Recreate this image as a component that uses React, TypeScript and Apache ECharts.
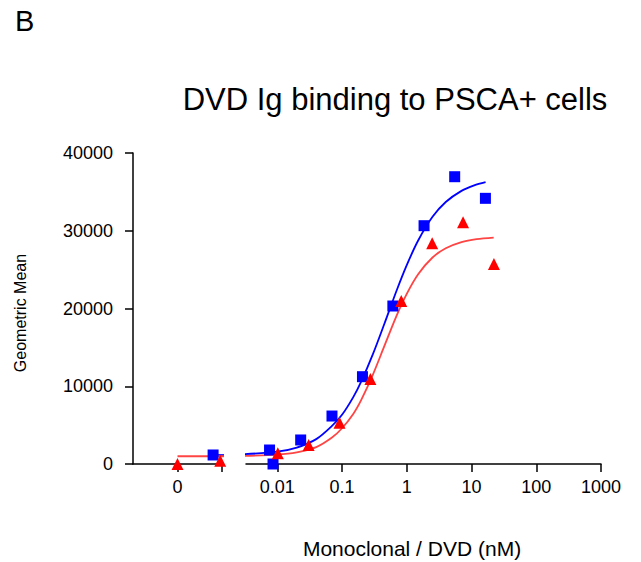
import React, { useEffect, useRef } from "react";
import * as echarts from "echarts";

// ---- data ----
const yTickValues = [0, 10000, 20000, 30000, 40000];
const logTickLabels = ["0.01", "0.1", "1", "10", "100", "1000"];
const zeroTickLabels = ["0"];

// left (zero) segment: [position, geometric mean]
const blueZeroPoints = [[0.8, 1160]];
const redZeroPoints = [[0, 0], [0.96, 420]];
const blueZeroFit = [[0.8, 1150], [1.1, 1150]];
const redZeroFit = [[0, 1000], [1.07, 1000]];

// right (log) segment: [concentration nM, geometric mean]
const bluePoints = [
  [0.0076, 1800], [0.0086, 0], [0.023, 3090], [0.07, 6170], [0.207, 11230],
  [0.61, 20320], [1.85, 30650], [5.5, 36950], [16.4, 34170],
];
const redPoints = [
  [0.0102, 1370], [0.0305, 2440], [0.0914, 5310], [0.274, 10930],
  [0.823, 20960], [2.47, 28390], [7.41, 31090], [22.2, 25720],
];
const blueFit = [
  [0.0029, 1250], [0.01, 1580], [0.02, 2110], [0.04, 3200], [0.07, 4900],
  [0.1, 6330], [0.15, 8640], [0.2, 10690], [0.3, 14130], [0.45, 18010],
  [0.7, 22350], [1.0, 25580], [1.5, 28740], [2.5, 31790], [4, 33700],
  [7, 35130], [11, 35840], [16.5, 36250],
];
const redFit = [
  [0.0029, 1050], [0.01, 1200], [0.02, 1490], [0.04, 2170], [0.07, 3400],
  [0.1, 4600], [0.15, 6470], [0.2, 8310], [0.3, 11500], [0.45, 15150],
  [0.7, 19110], [1.0, 21890], [1.5, 24410], [2.5, 26560], [4, 27740],
  [7, 28530], [12, 28910], [22, 29120],
];

const FONT = "'Liberation Sans', Arial, Helvetica, sans-serif";
const BLUE = "#0000ff";
const RED = "#ff0000";
const RED_LINE = "#ff4444";

export default function App() {
  const ref = useRef<HTMLDivElement>(null);

  useEffect(() => {
    if (!ref.current) return;
    const chart = echarts.init(ref.current, null, { renderer: "svg" });

    const axisLine = { show: true, onZero: false, lineStyle: { color: "#000", width: 1.5 } };
    const axisTick = { show: true, inside: false, length: 8, lineStyle: { color: "#000", width: 1.5 } };
    const labelStyle = { color: "#000", fontSize: 18, fontFamily: FONT };

    const top = 153;
    const height = 311;

    chart.setOption({
      animation: false,
      backgroundColor: "#fff",
      grid: [
        { left: 133, top, width: 89, height },
        { left: 246, top, width: 355, height },
      ],
      xAxis: [
        {
          type: "value",
          gridIndex: 0,
          min: -1,
          max: 1,
          interval: 1,
          axisLine,
          axisTick: { ...axisTick, customValues: [0, 1] },
          axisLabel: {
            ...labelStyle,
            margin: 14,
            customValues: [0],
            formatter: () => zeroTickLabels[0],
          },
          splitLine: { show: false },
        },
        {
          type: "log",
          logBase: 10,
          gridIndex: 1,
          min: 0.00329,
          max: 1000,
          axisLine,
          axisTick,
          axisLabel: {
            ...labelStyle,
            margin: 14,
            showMinLabel: false,
            formatter: (v: number) => {
              const e = Math.log10(v);
              const r = Math.round(e);
              if (Math.abs(e - r) > 1e-6) return "";
              const s = logTickLabels.find((t) => Math.abs(Math.log10(parseFloat(t)) - r) < 1e-6);
              return s ?? "";
            },
          },
          splitLine: { show: false },
          minorTick: { show: false },
        },
      ],
      yAxis: [
        {
          type: "value",
          gridIndex: 0,
          min: yTickValues[0],
          max: yTickValues[yTickValues.length - 1],
          interval: yTickValues[1] - yTickValues[0],
          axisLine,
          axisTick,
          axisLabel: { ...labelStyle, margin: 20, formatter: (v: number) => String(v) },
          splitLine: { show: false },
        },
        {
          type: "value",
          gridIndex: 1,
          min: yTickValues[0],
          max: yTickValues[yTickValues.length - 1],
          interval: yTickValues[1] - yTickValues[0],
          show: false,
          splitLine: { show: false },
        },
      ],
      graphic: [
        {
          type: "text",
          left: 15,
          top: 6,
          style: { text: "B", fontSize: 29, fontFamily: FONT, fill: "#000" },
        },
        {
          type: "text",
          x: 395,
          y: 99,
          style: {
            text: "DVD Ig binding to PSCA+ cells",
            fontSize: 31,
            fontFamily: FONT,
            fill: "#000",
            textAlign: "center",
            textVerticalAlign: "middle",
          },
        },
        {
          type: "text",
          x: 20,
          y: 313,
          rotation: Math.PI / 2,
          style: {
            text: "Geometric Mean",
            fontSize: 16,
            fontFamily: FONT,
            fill: "#000",
            textAlign: "center",
            textVerticalAlign: "middle",
          },
        },
        {
          type: "text",
          x: 412,
          y: 548,
          style: {
            text: "Monoclonal / DVD (nM)",
            fontSize: 21,
            fontFamily: FONT,
            fill: "#000",
            textAlign: "center",
            textVerticalAlign: "middle",
          },
        },
      ],
      series: [
        {
          type: "line",
          xAxisIndex: 0,
          yAxisIndex: 0,
          data: blueZeroFit,
          showSymbol: false,
          clip: false,
          lineStyle: { color: BLUE, width: 1.8 },
          z: 2,
        },
        {
          type: "line",
          xAxisIndex: 0,
          yAxisIndex: 0,
          data: redZeroFit,
          showSymbol: false,
          clip: false,
          lineStyle: { color: RED_LINE, width: 1.8 },
          z: 3,
        },
        {
          type: "line",
          xAxisIndex: 1,
          yAxisIndex: 1,
          data: redFit,
          smooth: 0.3,
          showSymbol: false,
          clip: false,
          lineStyle: { color: RED_LINE, width: 1.8 },
          z: 2,
        },
        {
          type: "line",
          xAxisIndex: 1,
          yAxisIndex: 1,
          data: blueFit,
          smooth: 0.3,
          showSymbol: false,
          clip: false,
          lineStyle: { color: BLUE, width: 1.8 },
          z: 3,
        },
        {
          type: "scatter",
          xAxisIndex: 0,
          yAxisIndex: 0,
          data: blueZeroPoints,
          symbol: "rect",
          symbolSize: 11,
          clip: false,
          itemStyle: { color: BLUE, opacity: 1 },
          z: 4,
        },
        {
          type: "scatter",
          xAxisIndex: 0,
          yAxisIndex: 0,
          data: redZeroPoints,
          symbol: "triangle",
          symbolSize: 12,
          clip: false,
          itemStyle: { color: RED, opacity: 1 },
          z: 5,
        },
        {
          type: "scatter",
          xAxisIndex: 1,
          yAxisIndex: 1,
          data: bluePoints,
          symbol: "rect",
          symbolSize: 11,
          clip: false,
          itemStyle: { color: BLUE, opacity: 1 },
          z: 4,
        },
        {
          type: "scatter",
          xAxisIndex: 1,
          yAxisIndex: 1,
          data: redPoints,
          symbol: "triangle",
          symbolSize: 12,
          clip: false,
          itemStyle: { color: RED, opacity: 1 },
          z: 5,
        },
      ],
    });

    return () => chart.dispose();
  }, []);

  return (
    <div
      ref={ref}
      style={{ position: "absolute", left: 0, top: 0, width: 641, height: 562 }}
    />
  );
}
